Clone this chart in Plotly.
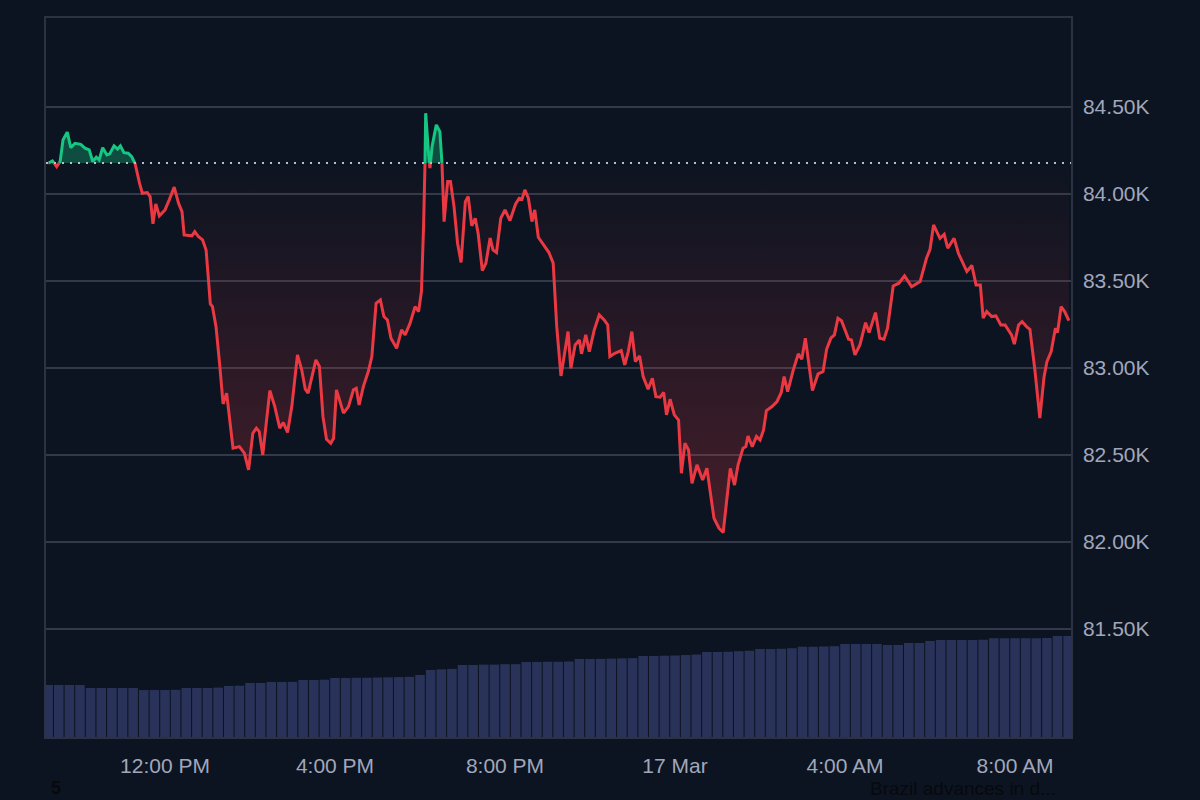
import pandas as pd
import plotly.graph_objects as go

# ---------------- data ----------------
START = pd.Timestamp("2025-03-16 09:00")

# minutes after 16 Mar 09:00
minutes = [15, 21, 27, 32, 36, 42, 47, 53, 61, 67, 73, 78, 83, 87, 92, 98, 102, 108, 113, 117,
           122, 128, 133, 138, 144, 148, 155, 159, 163, 167, 172, 180, 186, 193, 199, 204, 207, 218, 222, 227,
           233, 238, 241, 244, 247, 252, 257, 262, 267, 276, 285, 292, 298, 304, 309, 313, 318, 328, 335, 342,
           347, 353, 359, 367, 373, 378, 382, 393, 398, 403, 408, 414, 418, 422, 432, 439, 446, 450, 454, 460,
           467, 472, 478, 484, 489, 494, 499, 507,
           514, 519, 526, 533, 538, 542, 545, 547, 548, 552, 554, 557, 563, 568, 571, 574, 579, 583, 588, 593,
           598, 604, 608, 613, 618, 622, 628, 633, 639, 643, 648, 654, 660, 667, 675, 680, 684, 688, 693, 698,
           702, 707, 715, 722, 728, 733, 739, 744, 749, 753, 759, 765, 768, 774, 779, 786, 793, 800, 805, 808,
           815, 824, 829, 834, 839, 844, 850, 855, 862, 868, 873, 879, 884, 888, 893, 899, 905, 909, 914, 919,
           924, 931, 939, 945, 949, 955, 962, 968, 973, 978, 984, 989, 996, 1000,
           1003, 1009, 1015, 1020, 1025, 1029, 1037, 1044, 1050, 1054, 1059, 1067, 1074, 1079, 1084, 1089, 1094,
           1102, 1109, 1114, 1120, 1125, 1130, 1135, 1145, 1149, 1154, 1161, 1169, 1174, 1183, 1189, 1195, 1200,
           1208, 1216, 1224, 1234, 1246, 1255, 1260, 1265, 1274, 1280, 1285, 1294, 1300, 1312, 1319, 1325, 1331,
           1335, 1340, 1347, 1353, 1360, 1366, 1375, 1379, 1385, 1390, 1397, 1401, 1408, 1415, 1421, 1425, 1431,
           1437, 1440, 1445, 1450, 1456]

price = [84176, 84190, 84157, 84186, 84310, 84355, 84266, 84291, 84285, 84263, 84253, 84186, 84211, 84195,
         84266, 84224, 84230, 84276, 84257, 84276, 84237, 84234, 84214, 84171, 84062, 84004, 84008, 83985,
         83828, 83943, 83874, 83908, 83966, 84039, 83947, 83898, 83764, 83759, 83783, 83755, 83736, 83678,
         83525, 83368, 83352, 83237, 83027, 82793, 82855, 82539, 82548, 82510, 82414, 82625, 82654, 82634,
         82500, 82870, 82778, 82654, 82686, 82629, 82778, 83075, 82989, 82878, 82855, 83046, 83008, 82720,
         82590, 82567, 82596, 82874, 82740, 82778, 82874, 82883, 82787, 82893, 82979, 83065, 83372, 83391,
         83295, 83276, 83171, 83113,
         83218, 83190, 83257, 83352, 83324, 83439, 83812, 84167, 84464, 84234, 84148, 84272, 84397, 84358,
         84176, 83841, 84071, 84071, 83927, 83717, 83606, 83956, 83985, 83816, 83860, 83774, 83559, 83602,
         83746, 83678, 83663, 83860, 83908, 83847, 83943, 83975, 83970, 84023, 83975, 83841, 83908, 83751,
         83707, 83663, 83602, 83237, 82954, 83084, 83209, 82998, 83132, 83161, 83081, 83190, 83094, 83218,
         83305, 83276, 83247, 83065, 83084, 83100, 83017, 83094, 83209, 83036, 83069, 82950, 82878, 82941,
         82835, 82832, 82859, 82730, 82820, 82730, 82701, 82395, 82567, 82529, 82337, 82443, 82356, 82423,
         82318, 82136, 82079, 82054, 82241, 82423, 82327, 82443, 82539, 82548,
         82609, 82548, 82606, 82586, 82644, 82755, 82778, 82807, 82859, 82950, 82864, 82989, 83081, 83050,
         83171, 83008, 82870, 82966, 82979, 83107, 83171, 83190, 83286, 83272, 83165, 83161, 83075, 83132,
         83260, 83203, 83318, 83171, 83165, 83228, 83471, 83487, 83529, 83467, 83496, 83630, 83682, 83822,
         83745, 83768, 83688, 83745, 83659, 83554, 83589, 83477, 83477, 83286, 83324, 83295, 83299, 83247,
         83247, 83190, 83137, 83247, 83266, 83234, 83222, 82989, 82711, 82950, 83036, 83094, 83228, 83203,
         83352, 83324, 83272]

baseline = 84178  # opening price of the window

# 24h volume (billion USD), one bar every 15 minutes from 16 Mar 09:15
vol_start = "2025-03-16 09:15"
volume_b = [10.85, 10.85, 10.85, 10.85, 10.22, 10.22, 10.22, 10.22, 10.22, 9.80,
            9.80, 9.80, 9.85, 10.22, 10.22, 10.22, 10.30, 10.64, 10.70, 11.27,
            11.27, 11.47, 11.47, 11.50, 11.89, 11.89, 11.95, 12.31, 12.31, 12.35,
            12.35, 12.40, 12.45, 12.50, 12.55, 12.93, 13.98, 14.10, 14.20, 15.02,
            15.02, 15.10, 15.10, 15.20, 15.20, 15.65, 15.65, 15.70, 15.70, 15.75,
            16.27, 16.27, 16.30, 16.35, 16.40, 16.45, 16.90, 16.90, 16.95, 17.00,
            17.10, 17.20, 17.73, 17.73, 17.80, 17.90, 18.00, 18.36, 18.36, 18.40,
            18.50, 18.84, 18.84, 18.90, 18.95, 19.40, 19.40, 19.40, 19.40, 19.19,
            19.19, 19.61, 19.61, 20.03, 20.24, 20.24, 20.24, 20.24, 20.30, 20.59,
            20.59, 20.59, 20.59, 20.59, 20.65, 21.07, 21.07]

ytick_vals = [81500, 82000, 82500, 83000, 83500, 84000, 84500]
ytick_text = ["81.50K", "82.00K", "82.50K", "83.00K", "83.50K", "84.00K", "84.50K"]
xtick_vals = ["2025-03-16 12:00", "2025-03-16 16:00", "2025-03-16 20:00",
              "2025-03-17 00:00", "2025-03-17 04:00", "2025-03-17 08:00"]
xtick_text = ["12:00 PM", "4:00 PM", "8:00 PM", "17 Mar", "4:00 AM", "8:00 AM"]

GREEN = "#16c784"
RED = "#ea3943"
BG = "#0d1421"
GRID = "#333948"
TXT = "#a1a7bb"


def ts(mm):
    return (START + pd.Timedelta(minutes=float(mm))).strftime("%Y-%m-%d %H:%M:%S.%f")


# insert baseline crossings so the colours switch exactly at the baseline
m_all, p_all = [], []
for i in range(len(price)):
    if i > 0:
        a, b = price[i - 1], price[i]
        if (a - baseline) * (b - baseline) < 0:
            t = minutes[i - 1] + (baseline - a) / (b - a) * (minutes[i] - minutes[i - 1])
            m_all.append(t)
            p_all.append(baseline)
    m_all.append(minutes[i])
    p_all.append(price[i])


def runs(cond):
    out, cur = [], []
    for i, c in enumerate(cond):
        if c:
            cur.append(i)
        elif cur:
            out.append(cur)
            cur = []
    if cur:
        out.append(cur)
    return out


def build(cond):
    lx, ly, fx, fy = [], [], [], []
    for r in runs(cond):
        xs = [ts(m_all[i]) for i in r]
        ys = [p_all[i] for i in r]
        lx += xs + [None]
        ly += ys + [None]
        fx += xs + [xs[-1], xs[0], None]
        fy += ys + [baseline, baseline, None]
    return lx, ly, fx, fy


g_lx, g_ly, g_fx, g_fy = build([v >= baseline for v in p_all])
r_lx, r_ly, r_fx, r_fy = build([v <= baseline for v in p_all])

vol_x = pd.date_range(vol_start, periods=len(volume_b), freq="15min")

fig = go.Figure()

fig.add_trace(go.Bar(x=vol_x, y=volume_b, yaxis="y2", marker=dict(color="#29335a", line=dict(width=0)),
                     hoverinfo="skip"))

fig.add_trace(go.Scatter(x=r_fx, y=r_fy, mode="none", fill="toself",
                         fillgradient=dict(type="vertical",
                                           colorscale=[[0, "rgba(234,57,67,0.26)"], [1, "rgba(234,57,67,0.0)"]],
                                           start=82000, stop=baseline),
                         hoverinfo="skip"))
fig.add_trace(go.Scatter(x=g_fx, y=g_fy, mode="none", fill="toself",
                         fillcolor="rgba(22,199,132,0.32)", hoverinfo="skip"))

fig.add_trace(go.Scatter(x=r_lx, y=r_ly, mode="lines", line=dict(color=RED, width=3), connectgaps=False))
fig.add_trace(go.Scatter(x=g_lx, y=g_ly, mode="lines", line=dict(color=GREEN, width=3), connectgaps=False))

fig.add_shape(type="line", xref="paper", x0=0, x1=1, yref="y", y0=baseline, y1=baseline,
              line=dict(color="#b9bfcc", width=2, dash="2px,6px"), layer="above")

fig.add_annotation(text="<b>5</b>", xref="paper", yref="paper", x=0.0098, y=-0.0715,
                   xanchor="center", yanchor="middle", showarrow=False,
                   font=dict(size=18, color="#07090d", family="Liberation Sans"))
fig.add_annotation(text="Brazil advances in d...", xref="paper", yref="paper", x=0.9873, y=-0.0715,
                   xanchor="right", yanchor="middle", showarrow=False,
                   font=dict(size=19, color="#07090d", family="Liberation Sans"))

fig.update_layout(
    width=1200, height=800,
    margin=dict(l=46, r=129, t=18, b=63),
    paper_bgcolor=BG, plot_bgcolor=BG,
    showlegend=False,
    font=dict(family="Liberation Sans, Arial, sans-serif", size=21, color=TXT),
    bargap=0.1,
    xaxis=dict(type="date", range=["2025-03-16 09:12", "2025-03-17 09:19"],
               tickvals=xtick_vals, ticktext=xtick_text, showgrid=False, zeroline=False,
               showline=True, mirror=True, linecolor="#2c3242", linewidth=1.5,
               ticks="", ticklabelstandoff=9),
    yaxis=dict(side="right", range=[80879, 85011], tickvals=ytick_vals, ticktext=ytick_text,
               showgrid=True, gridcolor=GRID, gridwidth=1.5, zeroline=False,
               showline=True, mirror=True, linecolor="#2c3242", linewidth=1.5,
               ticks="", ticklabelstandoff=6),
    yaxis2=dict(overlaying="y", range=[0, 150], visible=False),
)

fig.write_html("out.html", config={"displayModeBar": False},
               post_script="document.body.style.margin='0';document.body.style.overflow='hidden';")
